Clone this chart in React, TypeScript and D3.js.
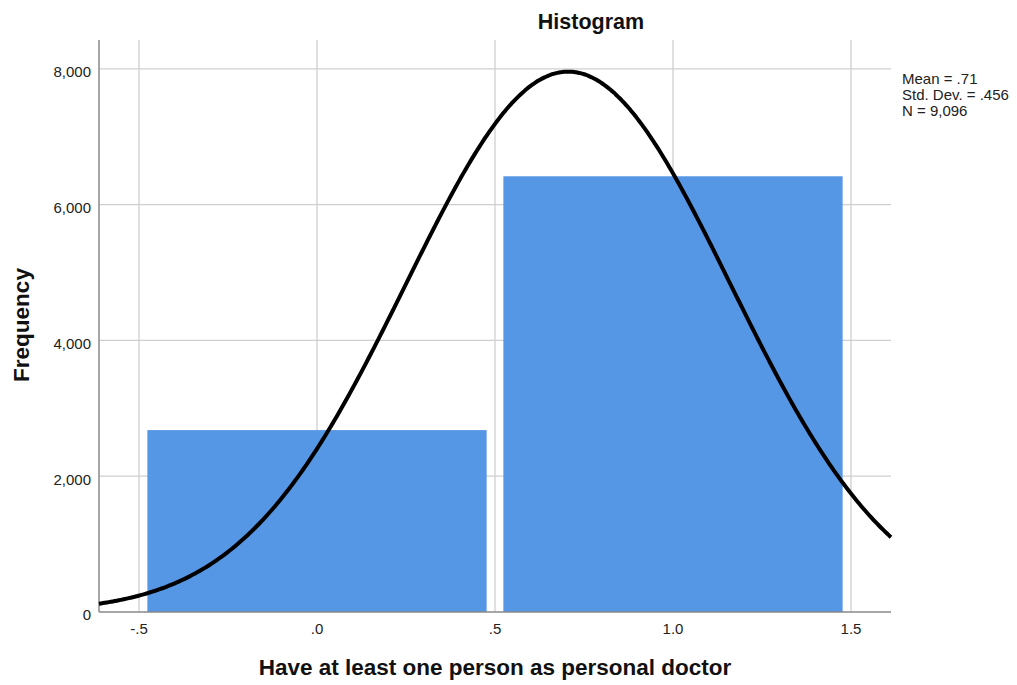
import React from "react";
import * as d3 from "d3";

// Histogram bins (lower edge, upper edge, count)
const binStarts = [-0.5, 0.5];
const binEnds = [0.5, 1.5];
const binCounts = [2679, 6417];

// Summary statistics shown in the legend and used for the fitted normal curve
const statLabels = ["Mean = .71", "Std. Dev. = .456", "N = 9,096"];
const statMean = [0.7055];
const statSd = [0.456];
const statN = [9096];

const xTicks = [-0.5, 0, 0.5, 1, 1.5];
const xTickLabels = ["-.5", ".0", ".5", "1.0", "1.5"];
const yTicks = [0, 2000, 4000, 6000, 8000];
const yTickLabels = ["0", "2,000", "4,000", "6,000", "8,000"];

const W = 1017;
const H = 685;
const margin = { left: 99, right: 126, top: 40, bottom: 73 };
const font = "'Liberation Sans', Arial, sans-serif";

export default function App() {
  const x = d3
    .scaleLinear()
    .domain([-0.6124, 1.6124])
    .range([margin.left, W - margin.right]);
  const y = d3
    .scaleLinear()
    .domain([0, 8424])
    .range([H - margin.bottom, margin.top]);

  const barInset = 0.0235;
  const mean = statMean[0];
  const sd = statSd[0];
  const n = statN[0];
  const binWidth = binEnds[0] - binStarts[0];
  const [x0, x1] = x.domain();
  const curvePts: [number, number][] = d3.range(0, 401).map((i) => {
    const xv = x0 + ((x1 - x0) * i) / 400;
    const z = (xv - mean) / sd;
    const f = (n * binWidth * Math.exp(-0.5 * z * z)) / (sd * Math.sqrt(2 * Math.PI));
    return [xv, f];
  });
  const line = d3
    .line<[number, number]>()
    .x((d) => x(d[0]))
    .y((d) => y(d[1]))
    .curve(d3.curveBasis);

  const plotTop = margin.top;
  const plotBottom = H - margin.bottom;
  const plotLeft = margin.left;
  const plotRight = W - margin.right;

  return (
    <svg
      width={W}
      height={H}
      style={{ position: "absolute", left: 0, top: 0, background: "#fff" }}
      fontFamily={font}
    >
      {/* gridlines */}
      {xTicks.map((t) => (
        <line
          key={"gx" + t}
          x1={x(t)}
          x2={x(t)}
          y1={plotTop}
          y2={plotBottom}
          stroke="#cfcfcf"
          strokeWidth={1.3}
        />
      ))}
      {yTicks.slice(1).map((t) => (
        <line
          key={"gy" + t}
          x1={plotLeft}
          x2={plotRight}
          y1={y(t)}
          y2={y(t)}
          stroke="#cfcfcf"
          strokeWidth={1.3}
        />
      ))}

      {/* bars */}
      {binCounts.map((c, i) => (
        <rect
          key={"b" + i}
          x={x(binStarts[i] + barInset)}
          width={x(binEnds[i] - barInset) - x(binStarts[i] + barInset)}
          y={y(c)}
          height={y(0) - y(c)}
          fill="#5596e5"
        />
      ))}

      {/* axes */}
      <line x1={plotLeft} x2={plotLeft} y1={plotTop} y2={plotBottom} stroke="#888" strokeWidth={1.5} />
      <line x1={plotLeft} x2={plotRight} y1={plotBottom} y2={plotBottom} stroke="#888" strokeWidth={1.5} />

      {/* normal curve */}
      <path d={line(curvePts) || ""} fill="none" stroke="#000" strokeWidth={4} strokeLinejoin="round" />

      {/* tick labels */}
      {yTicks.map((t, i) => (
        <text key={"yt" + t} x={plotLeft - 8} y={y(t) + 8.4} textAnchor="end" fontSize={15} fill="#222">
          {yTickLabels[i]}
        </text>
      ))}
      {xTicks.map((t, i) => (
        <text key={"xt" + t} x={x(t)} y={plotBottom + 21.5} textAnchor="middle" fontSize={15} fill="#222">
          {xTickLabels[i]}
        </text>
      ))}

      {/* titles */}
      <text x={591} y={28.5} textAnchor="middle" fontSize={21.5} fontWeight="bold" fill="#111">
        Histogram
      </text>
      <text x={(plotLeft + plotRight) / 2} y={675} textAnchor="middle" fontSize={22.5} fontWeight="bold" fill="#111">
        Have at least one person as personal doctor
      </text>
      <text
        transform={`translate(29, 325) rotate(-90)`}
        textAnchor="middle"
        fontSize={22.5}
        fontWeight="bold"
        fill="#111"
      >
        Frequency
      </text>

      {/* stats legend */}
      {statLabels.map((s, i) => (
        <text key={"s" + i} x={902} y={84.3 + i * 15.7} fontSize={15} fill="#222">
          {s}
        </text>
      ))}
    </svg>
  );
}
